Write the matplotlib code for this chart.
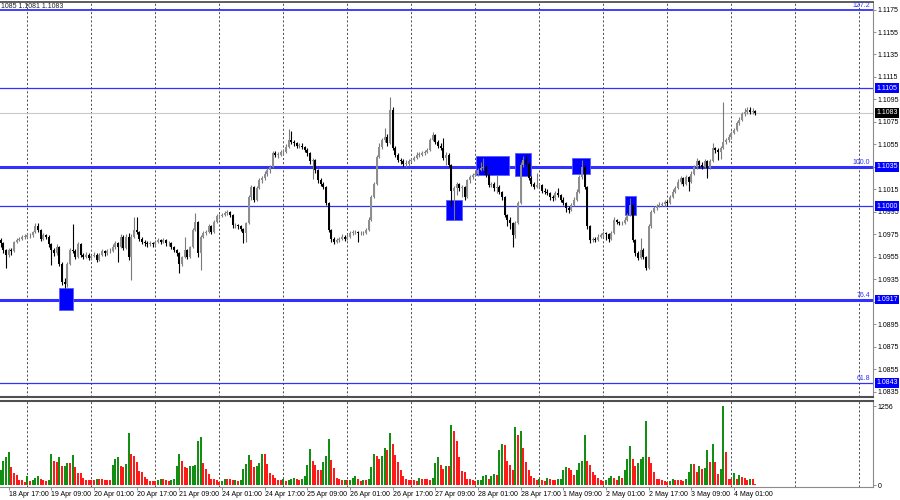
import numpy as np
import matplotlib.pyplot as plt
from matplotlib.patches import Rectangle
from matplotlib.transforms import blended_transform_factory

plt.rcParams['font.family'] = ['Liberation Sans', 'DejaVu Sans']

# EURUSD H1, 18 Apr 14:00 .. 4 May 09:00, prices in pips above 1.0900
base = 1.0900
pip = 0.0001
first_open = 70

close_pips = [
    67, 61, 57, 61, 60, 68, 70, 71, 73, 73, 74, 74, 77, 82, 79, 71, 74, 73, 66, 61, 58, 64, 49, 33,
    31, 49, 61, 60, 55, 66, 57, 55, 57, 54, 56, 57, 52, 57, 60, 58, 60, 60, 64, 67, 64, 73, 63, 73,
    55, 73, 79, 77, 71, 68, 67, 66, 67, 66, 68, 70, 68, 70, 67, 67, 64, 61, 58, 49, 55, 61, 55, 64,
    79, 86, 58, 73, 76, 77, 82, 77, 86, 91, 91, 92, 94, 95, 92, 83, 83, 82, 80, 76, 85, 108, 117, 106,
    116, 123, 125, 129, 132, 135, 147, 146, 146, 148, 148, 153, 159, 157, 156, 154, 154, 153, 150, 147, 140, 141, 132, 123,
    120, 117, 103, 79, 71, 68, 70, 71, 73, 71, 73, 76, 77, 77, 76, 76, 76, 79, 88, 108, 120, 144, 153, 159,
    162, 156, 186, 152, 146, 141, 140, 138, 138, 140, 141, 143, 146, 146, 147, 148, 150, 159, 163, 157, 154, 152, 143, 146,
    137, 114, 116, 120, 116, 117, 108, 123, 126, 128, 129, 132, 134, 135, 128, 119, 120, 116, 117, 113, 108, 92, 88, 85,
    74, 85, 103, 137, 141, 138, 125, 120, 117, 119, 119, 114, 113, 112, 108, 107, 112, 110, 106, 103, 98, 97, 101, 106,
    113, 126, 135, 117, 82, 70, 71, 70, 73, 74, 76, 75, 71, 76, 88, 86, 85, 85, 88, 92, 101, 70, 58, 54,
    61, 55, 45, 82, 95, 98, 100, 101, 102, 104, 103, 108, 113, 116, 122, 125, 120, 126, 122, 129, 135, 140, 137, 135,
    140, 134, 140, 152, 150, 148, 152, 157, 159, 162, 165, 168, 174, 177, 182, 184, 186, 184, 185, 183,
]
high_pips = [
    72, 68, 62, 63, 63, 69, 72, 73, 74, 75, 76, 76, 78, 85, 85, 80, 76, 75, 74, 67, 63, 66, 65, 50,
    36, 50, 63, 84, 62, 68, 67, 58, 59, 58, 57, 59, 58, 58, 62, 61, 62, 63, 66, 69, 68, 75, 74, 75,
    76, 75, 90, 90, 78, 73, 70, 69, 69, 68, 70, 72, 71, 72, 71, 69, 68, 65, 62, 59, 56, 73, 62, 65,
    81, 94, 87, 74, 78, 79, 84, 83, 88, 93, 93, 94, 96, 97, 96, 93, 85, 84, 83, 81, 86, 110, 119, 118,
    118, 125, 127, 131, 134, 137, 149, 149, 148, 150, 151, 155, 169, 167, 159, 157, 156, 156, 154, 152, 148, 143, 142, 133,
    125, 122, 118, 104, 80, 73, 72, 73, 75, 74, 75, 78, 79, 79, 78, 78, 78, 81, 90, 110, 122, 146, 156, 161,
    170, 164, 197, 188, 154, 147, 143, 142, 141, 142, 143, 145, 148, 148, 149, 150, 152, 161, 166, 164, 159, 156, 161, 148,
    147, 138, 118, 122, 121, 119, 118, 124, 128, 130, 131, 134, 139, 143, 137, 129, 122, 122, 128, 119, 114, 109, 93, 90,
    86, 87, 105, 139, 145, 146, 139, 127, 122, 130, 121, 120, 116, 115, 113, 110, 114, 116, 111, 108, 104, 100, 103, 108,
    115, 128, 141, 137, 118, 83, 73, 73, 75, 76, 78, 77, 76, 78, 90, 89, 87, 87, 90, 94, 107, 102, 71, 60,
    72, 63, 56, 84, 97, 100, 102, 104, 104, 106, 106, 110, 115, 118, 124, 127, 126, 128, 127, 131, 137, 143, 141, 139,
    142, 141, 142, 156, 153, 152, 154, 193, 161, 164, 167, 170, 176, 179, 184, 187, 188, 188, 187, 186,
]
low_pips = [
    64, 58, 45, 55, 57, 59, 67, 69, 70, 71, 72, 72, 73, 76, 77, 69, 70, 71, 64, 48, 56, 57, 47, 30,
    27, 28, 48, 58, 53, 54, 55, 53, 54, 52, 52, 55, 50, 51, 56, 56, 57, 58, 59, 62, 50, 63, 61, 62,
    52, 34, 72, 75, 69, 66, 65, 64, 65, 64, 65, 67, 66, 67, 65, 65, 62, 59, 56, 41, 47, 54, 53, 54,
    63, 78, 55, 43, 72, 74, 76, 75, 76, 85, 89, 90, 91, 92, 90, 81, 81, 80, 78, 67, 68, 84, 106, 104,
    105, 115, 121, 123, 127, 130, 134, 144, 143, 145, 146, 147, 152, 155, 154, 152, 152, 151, 148, 145, 138, 124, 130, 121,
    118, 115, 101, 77, 68, 66, 67, 68, 70, 69, 70, 72, 74, 75, 68, 74, 74, 75, 78, 87, 107, 119, 143, 151,
    157, 154, 155, 150, 144, 139, 138, 136, 135, 136, 139, 140, 142, 144, 145, 146, 147, 149, 158, 155, 152, 150, 141, 137,
    135, 100, 88, 110, 114, 108, 106, 107, 121, 124, 127, 127, 131, 132, 126, 117, 117, 114, 112, 111, 106, 90, 82, 80,
    64, 72, 84, 102, 135, 136, 123, 118, 115, 116, 117, 112, 111, 110, 106, 105, 106, 108, 104, 101, 95, 94, 96, 100,
    105, 112, 124, 115, 80, 67, 68, 68, 69, 72, 73, 70, 68, 70, 75, 84, 83, 83, 84, 87, 91, 68, 56, 52,
    53, 53, 43, 44, 81, 94, 97, 99, 100, 100, 100, 102, 107, 112, 115, 120, 118, 119, 114, 121, 128, 133, 134, 133,
    134, 125, 133, 139, 147, 141, 142, 151, 155, 157, 160, 164, 167, 172, 176, 180, 182, 182, 182, 181,
]
volume = [
    244, 379, 452, 529, 285, 192, 156, 88, 88, 52, 140, 67, 88, 119, 140, 104, 78, 67, 88, 493, 379, 363, 452, 296,
    311, 348, 348, 472, 285, 192, 192, 119, 88, 78, 78, 78, 104, 104, 104, 88, 88, 88, 327, 415, 441, 311, 285, 337,
    825, 493, 467, 363, 218, 208, 130, 104, 67, 67, 67, 78, 104, 104, 88, 67, 88, 104, 311, 493, 379, 285, 270, 296,
    311, 327, 701, 763, 348, 260, 171, 104, 104, 88, 52, 67, 104, 104, 104, 78, 88, 67, 88, 260, 337, 477, 400, 285,
    296, 348, 493, 493, 337, 192, 156, 119, 88, 78, 104, 67, 88, 104, 114, 104, 88, 104, 140, 327, 571, 379, 327, 244,
    244, 368, 462, 727, 400, 275, 119, 104, 78, 88, 78, 88, 119, 140, 104, 67, 78, 78, 104, 285, 493, 462, 415, 467,
    597, 555, 836, 649, 477, 363, 234, 140, 104, 78, 78, 78, 67, 114, 104, 104, 104, 88, 119, 348, 441, 327, 260, 296,
    296, 960, 856, 701, 441, 218, 208, 104, 104, 78, 67, 78, 88, 140, 156, 104, 140, 182, 156, 555, 649, 645, 389, 327,
    244, 919, 804, 867, 597, 363, 234, 140, 119, 88, 104, 88, 67, 119, 99, 88, 88, 99, 104, 244, 285, 275, 234, 156,
    234, 348, 379, 789, 389, 327, 208, 156, 119, 88, 67, 88, 119, 140, 119, 88, 140, 119, 234, 415, 623, 415, 296, 348,
    415, 452, 1022, 452, 348, 208, 104, 104, 78, 67, 52, 67, 104, 88, 78, 78, 67, 104, 208, 337, 337, 208, 296, 260,
    275, 555, 363, 659, 363, 182, 254, 1256, 519, 104, 104, 192, 104, 156, 130, 119, 78, 99, 99, 16,
]

date_labels = ['18 Apr 17:00', '19 Apr 09:00', '20 Apr 01:00', '20 Apr 17:00', '21 Apr 09:00',
               '24 Apr 01:00', '24 Apr 17:00', '25 Apr 09:00', '26 Apr 01:00', '26 Apr 17:00',
               '27 Apr 09:00', '28 Apr 01:00', '28 Apr 17:00', '1 May 09:00', '2 May 01:00',
               '2 May 17:00', '3 May 09:00', '4 May 01:00']

levels = [1.1175, 1.1105, 1.1035, 1.1000, 1.0917, 1.0843]
fib_names = {1.1175: '127.2', 1.1035: '100.0', 1.0917: '76.4', 1.0843: '61.8'}
boxed_levels = [1.1105, 1.1035, 1.1000, 1.0917, 1.0843]
last_price = 1.1083

# signal boxes: first bar, last bar, low, high
signals = [(21.9, 27.1, 1.0908, 1.0927),
           (167.0, 172.9, 1.0988, 1.1006),
           (178.3, 190.7, 1.1028, 1.1045),
           (192.9, 198.9, 1.1027, 1.1047),
           (214.1, 221.0, 1.1029, 1.1043),
           (234.1, 238.1, 1.0992, 1.1009)]

close = base + np.array(close_pips) * pip
high = base + np.array(high_pips) * pip
low = base + np.array(low_pips) * pip
opn = np.r_[base + first_open * pip, close[:-1]]
bars = np.arange(len(close))
vol = np.array(volume)

fig = plt.figure(figsize=(9, 5), dpi=100)
ax = fig.add_axes([0, 103 / 500, 873 / 900, 395 / 500])
axv = fig.add_axes([0, 13 / 500, 873 / 900, 86 / 500])

xlim = (-0.225, 327.1)
for a in (ax, axv):
    a.set_xlim(*xlim)
    a.spines['left'].set_visible(False)
    a.spines['right'].set_color('#8c8c8c')
    a.spines['right'].set_linewidth(0.8)
    for d in range(10, 327, 24):
        a.axvline(d, color='#303030', lw=0.6, ls=(0, (2.5, 2.5)), zorder=0.5)
    a.yaxis.tick_right()
    a.tick_params(axis='y', length=2, width=0.6, color='#808080', pad=1.5, labelsize=5)

ax.spines['top'].set_color('#505050')
ax.spines['top'].set_linewidth(1.3)
ax.spines['bottom'].set_color('#505050')
ax.spines['bottom'].set_linewidth(1.5)
axv.spines['top'].set_color('#505050')
axv.spines['top'].set_linewidth(1.5)
axv.spines['bottom'].set_color('#8c8c8c')
axv.spines['bottom'].set_linewidth(0.8)

# price pane
ax.set_ylim(1.08303, 1.11817)
yt = [round(1.0835 + 0.002 * k, 4) for k in range(18)]
ax.set_yticks(yt)
# 1.0915 sits under the 1.0917 level box, as on the terminal
ax.set_yticklabels(['' if v == 1.0915 else f'{v:.4f}' for v in yt])
ax.set_xticks([])

lw_levels = {1.1175: 1.3, 1.1035: 2.2, 1.0917: 2.2}
for lv in levels:
    ax.axhline(lv, color='#3030ff', lw=lw_levels.get(lv, 0.9), zorder=1.5)
ax.axhline(last_price, color='#c8c8c8', lw=0.8, zorder=1.2)

for x0, x1, lo, hi in signals:
    ax.add_patch(Rectangle((x0, lo), x1 - x0, hi - lo, facecolor='#0000ff',
                           edgecolor='#5a5aff', lw=0.6, zorder=1.8))

up = close >= opn
body_col = np.where(up, '#8e8e8e', '#000000')
wick_col = np.where(up, '#7a7a7a', '#000000')
ax.vlines(bars, low, high, colors=wick_col, lw=0.8, zorder=2.5)
ax.bar(bars, np.maximum(np.abs(close - opn), 0.00002), bottom=np.minimum(opn, close),
       width=0.7, color=body_col, linewidth=0, zorder=3)

tr = blended_transform_factory(ax.transAxes, ax.transData)
for lv, name in fib_names.items():
    ax.text(0.997, lv + 0.00005, name, transform=tr, ha='right', va='bottom',
            fontsize=5, color='#3030ff')
for lv in boxed_levels:
    ax.text(1.004, lv, f'{lv:.4f}', transform=tr, ha='left', va='center', fontsize=5,
            color='white', clip_on=False, zorder=6,
            bbox=dict(boxstyle='square,pad=0.2', fc='#0000ff', ec='none'))
ax.text(1.004, last_price, f'{last_price:.4f}', transform=tr, ha='left', va='center',
        fontsize=5, color='white', clip_on=False, zorder=6,
        bbox=dict(boxstyle='square,pad=0.2', fc='#000000', ec='none'))

fig.text(0.001, 1 - 6 / 500, '1085 1.1081 1.1083', fontsize=5, va='center', ha='left',
         color='#202020')

# volume pane
vcol = np.where(np.r_[True, vol[1:] > vol[:-1]], '#128f12', '#ff1a1a')
axv.bar(bars, vol, width=0.8, color=vcol, linewidth=0, zorder=2)
axv.set_ylim(-31, 1338)
axv.set_yticks([0, 1256])
axv.set_yticklabels(['0', '1256'])
axv.set_xticks(range(3, 284, 16))
axv.set_xticklabels(date_labels, ha='left')
axv.tick_params(axis='x', length=2, width=0.6, color='#808080', pad=1, labelsize=5)

fig.savefig('out.png', dpi=100, facecolor='white')
